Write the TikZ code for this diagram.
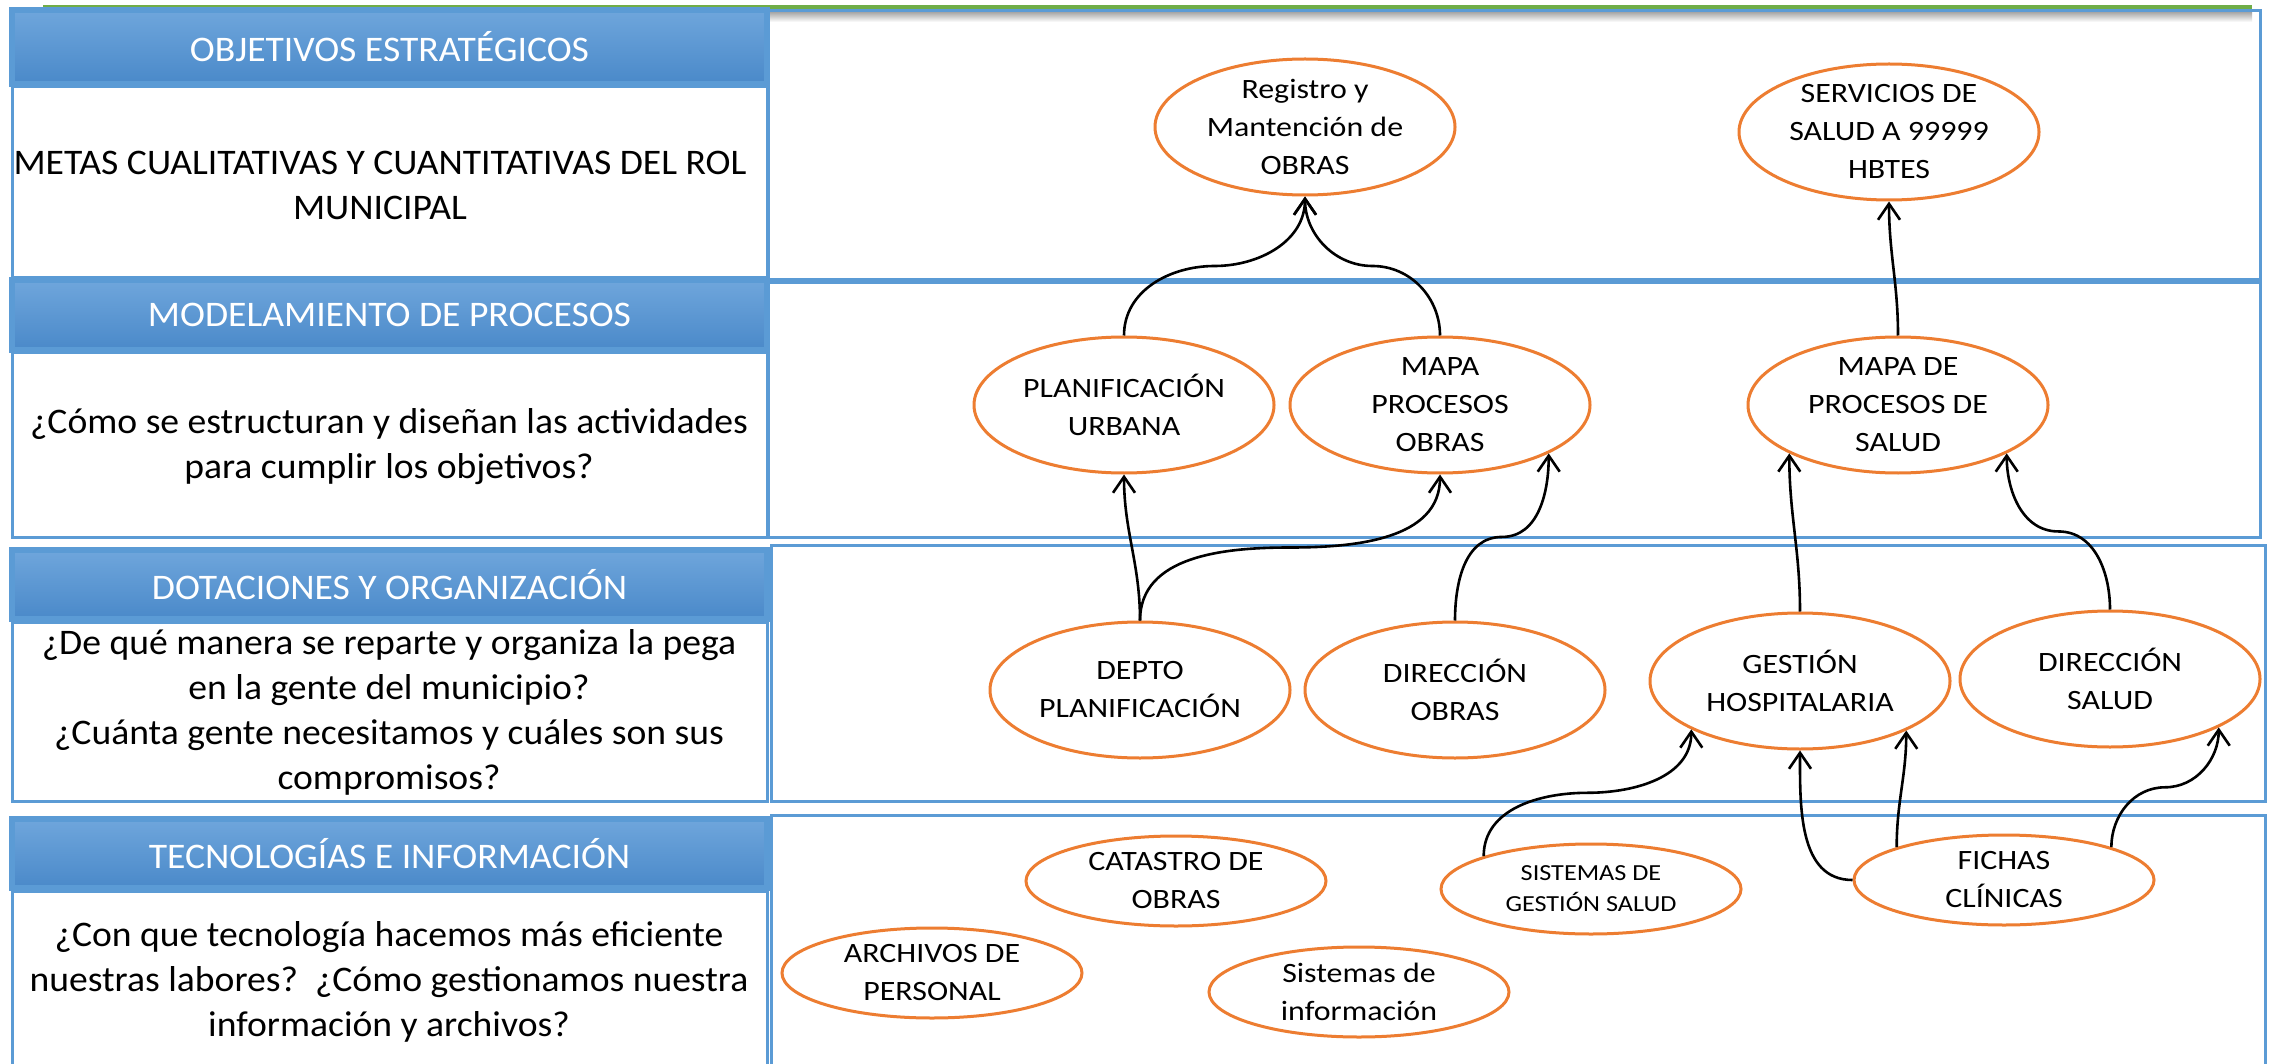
\documentclass[tikz,border=0pt]{standalone}
\usepackage{fontspec}
\setmainfont{Carlito}[FakeStretch=1.045]
\newfontfamily\ellfont{Carlito}[FakeStretch=1.14]
\usetikzlibrary{arrows.meta,shapes.geometric,calc}
\definecolor{bl}{HTML}{5B9BD5}
\definecolor{blT}{HTML}{6FA6DC}
\definecolor{blB}{HTML}{4A89C9}
\definecolor{og}{HTML}{ED7D31}
\definecolor{gr}{HTML}{70AD47}
\begin{document}
\begin{tikzpicture}[x=1pt,y=1pt,
  box/.style={draw=bl,line width=3pt},
  hdr/.style={draw=bl,line width=6pt,top color=blT,bottom color=blB,minimum width=755pt,inner sep=0pt,text=white,font=\fontsize{36}{40}\selectfont},
  ltxt/.style={align=center,font=\fontsize{36}{45}\selectfont,inner sep=0pt},
  ell/.style={ellipse,draw=og,line width=3pt,fill=white,minimum width=300pt,minimum height=136pt,inner sep=0pt},
  ells/.style={ell,minimum height=90pt},
  etxt/.style={align=center,font=\ellfont\fontsize{28}{38}\selectfont,inner sep=0pt},
  estxt/.style={align=center,font=\ellfont\fontsize{23}{31}\selectfont,inner sep=0pt},
  conn/.style={draw=black,line width=2.6pt,-{Straight Barb[length=16pt,width=22pt]}}
]
\useasboundingbox (0,0) rectangle (2272,-1064);
\clip (0,0) rectangle (2272,-1064);
\fill[white] (0,0) rectangle (2272,-1064);

% shadow of the top line
\shade[top color=black!35,bottom color=white] (45,-12) rectangle (2252,-22);

% right-hand boxes
\draw[box] (768,-10.5) rectangle (2260,-280);
\draw[box] (768,-283) rectangle (2260,-537);
\draw[box] (771,-545) rectangle (2265,-801);
\draw[box] (771,-815.5) rectangle (2265,-1090);

% left-hand boxes
\draw[box] (12,-87) rectangle (767,-278);
\draw[box] (12,-353) rectangle (767,-537);
\draw[box] (12,-622) rectangle (767,-801);
\draw[box] (12,-891) rectangle (767,-1090);

% top green line
\draw[gr,line width=4pt] (43,-7) -- (2252,-7);

% header bars
\node[hdr,minimum height=74pt] (h1) at (389.5,-47) {OBJETIVOS ESTRATÉGICOS};
\node[hdr,minimum height=70pt] (h2) at (389.5,-315) {MODELAMIENTO DE PROCESOS};
\node[hdr,minimum height=69pt] (h3) at (389.5,-584.5) {DOTACIONES Y ORGANIZACIÓN};
\node[hdr,minimum height=69pt] (h4) at (389.5,-853.5) {TECNOLOGÍAS E INFORMACIÓN};

% left texts
\node[ltxt] (t1) at (380,-185) {METAS CUALITATIVAS Y CUANTITATIVAS DEL ROL\\MUNICIPAL};
\node[ltxt] (t2) at (389,-447) {¿Cómo se estructuran y diseñan las actividades\\para cumplir los objetivos?};
\node[ltxt] (t3) at (389,-712) {¿De qué manera se reparte y organiza la pega\\en la gente del municipio?\\¿Cuánta gente necesitamos y cuáles son sus\\compromisos?};
\node[ltxt] (t4) at (389,-982) {¿Con que tecnología hacemos más eficiente\\nuestras labores?~~¿Cómo gestionamos nuestra\\información y archivos?};

% ellipses
\node[ell] (reg) at (1305,-127) {};
\node[etxt] at (reg) {Registro y\\Mantención de\\OBRAS};
\node[ell] (serv) at (1889,-132) {};
\node[etxt] at (serv) {SERVICIOS DE\\SALUD A 99999\\HBTES};
\node[ell] (pu) at (1124,-405) {};
\node[etxt] at (pu) {PLANIFICACIÓN\\URBANA};
\node[ell] (mpo) at (1440,-405) {};
\node[etxt] at (mpo) {MAPA\\PROCESOS\\OBRAS};
\node[ell] (mps) at (1898,-405) {};
\node[etxt] at (mps) {MAPA DE\\PROCESOS DE\\SALUD};
\node[ell] (depto) at (1140,-690) {};
\node[etxt] at (depto) {DEPTO\\PLANIFICACIÓN};
\node[ell] (diro) at (1455,-690) {};
\node[etxt] at (diro) {DIRECCIÓN\\OBRAS};
\node[ell] (gest) at (1800,-681) {};
\node[etxt] at (gest) {GESTIÓN\\HOSPITALARIA};
\node[ell] (dirs) at (2110,-679) {};
\node[etxt] at (dirs) {DIRECCIÓN\\SALUD};
\node[ells] (cat) at (1176,-881) {};
\node[etxt] at (cat) {CATASTRO DE\\OBRAS};
\node[ells] (sis) at (1591,-889) {};
\node[estxt] at (sis) {SISTEMAS DE\\GESTIÓN SALUD};
\node[ells] (fich) at (2004,-880) {};
\node[etxt] at (fich) {FICHAS\\CLÍNICAS};
\node[ells] (arch) at (932,-973) {};
\node[etxt] at (arch) {ARCHIVOS DE\\PERSONAL};
\node[ells] (sinf) at (1359,-992) {};
\node[etxt] at (sinf) {Sistemas de\\información};

% connectors
\draw[conn] (pu.north) to[out=90,in=180] ($(pu.north)!.5!(reg.south)$) to[out=0,in=-90] (reg.south);
\draw[conn] (mpo.north) to[out=90,in=0] ($(mpo.north)!.5!(reg.south)$) to[out=180,in=-90] (reg.south);
\draw[conn] (depto.north) to[out=90,in=-90] (pu.south);
\draw[conn] (depto.north) to[out=90,in=180] ($(depto.north)!.5!(mpo.south)$) to[out=0,in=-90] (mpo.south);
\draw[conn] (diro.north) to[out=90,in=180] ($(diro.north)!.5!(mpo.-24.4)$) to[out=0,in=-90] (mpo.-24.4);
\draw[conn] (gest.north) to[out=90,in=-90] (mps.204.4);
\draw[conn] (dirs.north) to[out=90,in=0] ($(dirs.north)!.5!(mps.-24.6)$) to[out=180,in=-90] (mps.-24.6);
\draw[conn] (mps.north) to[out=90,in=-90] (serv.south);
\draw[conn] (sis.163) to[out=90,in=180] ($(sis.163)!.5!(gest.204.4)$) to[out=0,in=-90] (gest.204.4);
\draw[conn] (fich.west) to[out=180,in=-90] (gest.south);
\draw[conn] (fich.163) to[out=90,in=-90] (gest.-25);
\draw[conn] (fich.17) to[out=90,in=180] ($(fich.17)!.5!(dirs.-24)$) to[out=0,in=-90] (dirs.-24);
\end{tikzpicture}
\end{document}
